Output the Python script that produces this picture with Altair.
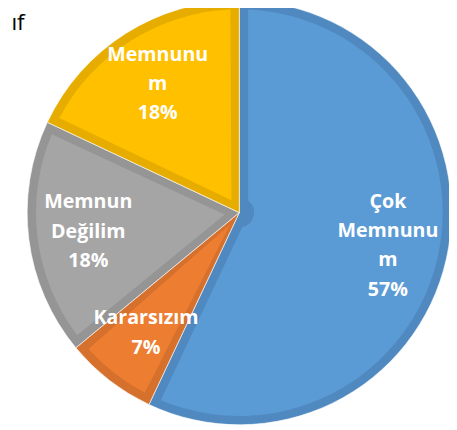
import altair as alt
import pandas as pd

categories = ["Çok Memnunum", "Kararsızım", "Memnun Değilim", "Memnunum"]
values = [57, 7, 18, 18]
label_names = ["Çok\nMemnunu\nm", "Kararsızım", "Memnun\nDeğilim", "Memnunu\nm"]
fill_colors = ["#5B9BD5", "#ED7D31", "#A5A5A5", "#FFC000"]
border_colors = ["#5089C0", "#D5712C", "#959595", "#E6AD00"]
title_fragment = "ıf"

labels_full = [f"{n}\n{v}%" for n, v in zip(label_names, values)]
df = pd.DataFrame({
    "cat": categories,
    "val": values,
    "idx": list(range(len(categories))),
    "label": labels_full,
    "nlines": [s.count("\n") + 1 for s in labels_full],
})

CX, CY = 235.5, 204.5
R = 216
BORDER = 9
LH = 30

base = alt.Chart(df).encode(
    theta=alt.Theta("val:Q", stack=True),
    order=alt.Order("idx:Q"),
)

dark = base.mark_arc(
    x=CX, y=CY, outerRadius=R, stroke="white", strokeWidth=1, strokeOpacity=0.6
).encode(
    color=alt.Color("cat:N", scale=alt.Scale(domain=categories, range=border_colors), legend=None)
)

light = base.mark_arc(
    x=CX, y=CY, outerRadius=R - BORDER, innerRadius=15, padAngle=2 * BORDER / (R - BORDER)
).encode(
    color=alt.Color("cat:N", scale=alt.Scale(domain=categories, range=fill_colors), legend=None)
)

text_layers = []
for n in sorted(set(df["nlines"])):
    text_layers.append(
        base.mark_text(
            x=CX, y=CY, radius=155, dy=-(n - 1) * LH / 2, font="Open Sans", fontSize=20,
            fontWeight="bold", color="white", lineBreak="\n", lineHeight=LH,
            align="center", baseline="middle"
        ).encode(
            text="label:N",
            opacity=alt.condition(f"datum.nlines == {n}", alt.value(1), alt.value(0)),
        )
    )

title = alt.Chart(pd.DataFrame({"t": [title_fragment]})).mark_text(
    x=17, y=19, align="right", baseline="alphabetic", font="Open Sans",
    fontSize=23, color="black"
).encode(text="t:N")

chart = alt.layer(dark, light, *text_layers, title).resolve_scale(
    color="independent"
).properties(
    width=449, height=422, padding=0, autosize=alt.AutoSizeParams(type="none")
).configure_view(stroke=None)

chart.save("out.html", embed_options={"renderer": "svg", "actions": False})
